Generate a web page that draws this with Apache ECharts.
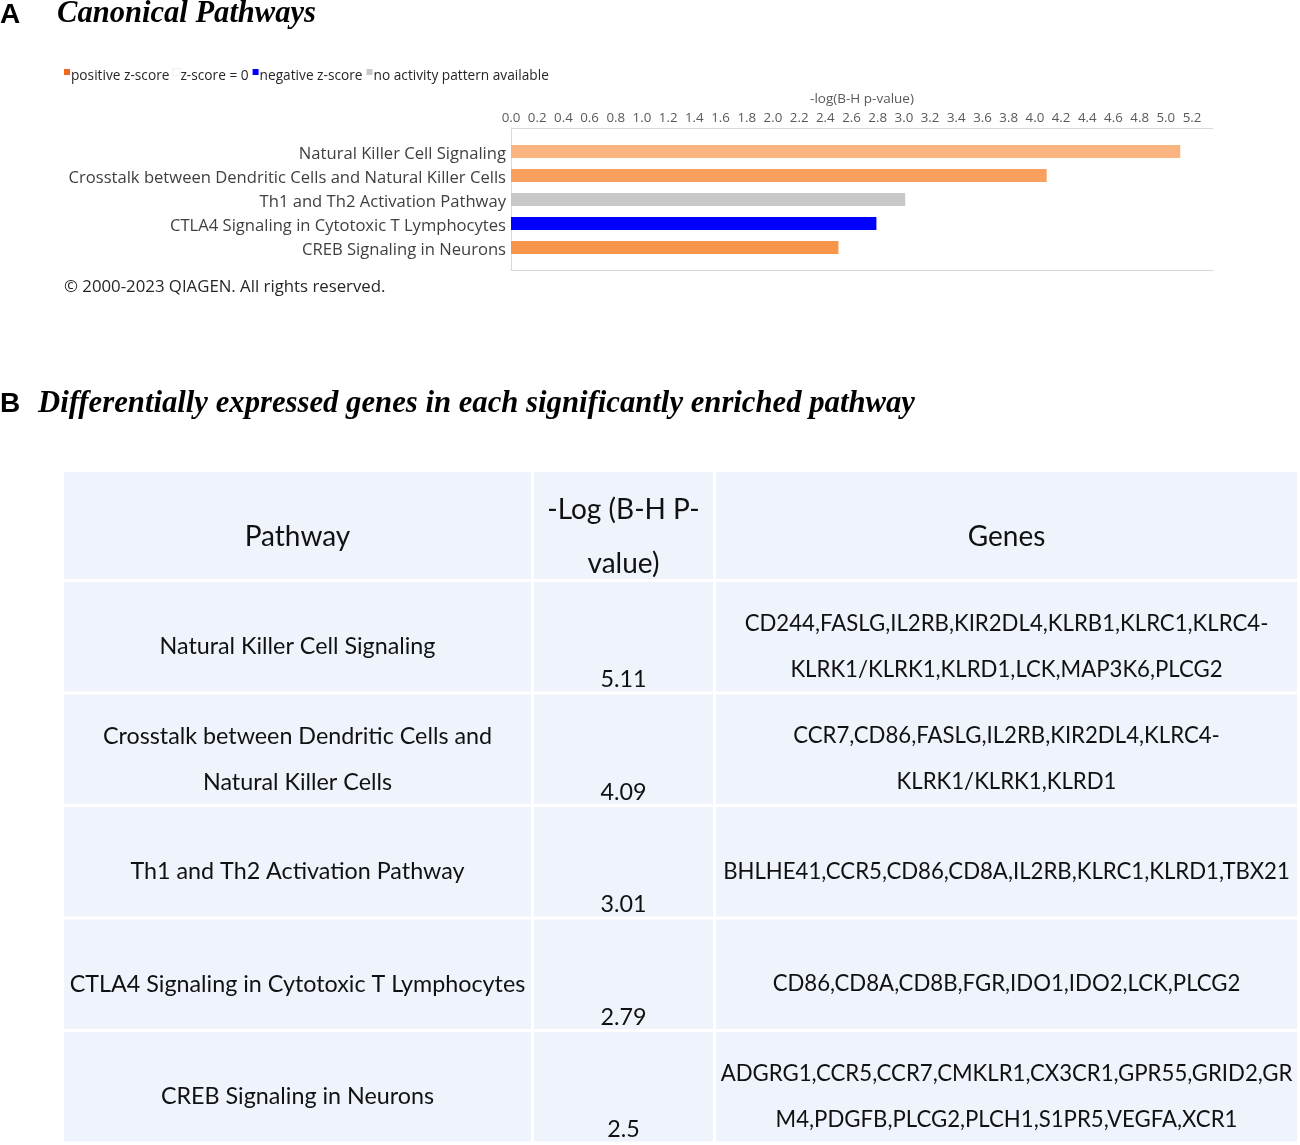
<!DOCTYPE html>
<html><head><meta charset="utf-8">
<script src="https://cdn.jsdelivr.net/npm/echarts@6/dist/echarts.min.js"></script>
<style>html,body{margin:0;padding:0;background:#fff}#c{width:1300px;height:1145px}</style>
</head><body><div id="c"></div>
<script>
// ---------------- data ----------------
const pathways = [
  'Natural Killer Cell Signaling',
  'Crosstalk between Dendritic Cells and Natural Killer Cells',
  'Th1 and Th2 Activation Pathway',
  'CTLA4 Signaling in Cytotoxic T Lymphocytes',
  'CREB Signaling in Neurons'
];
const negLogP = [5.11, 4.09, 3.01, 2.79, 2.5];
const zScoreGroup = ['positive', 'positive', 'none', 'negative', 'positive'];
const axisMin = 0, axisMax = 5.36, axisStep = 0.2;
const axisTitle = '-log(B-H p-value)';
const legendLabels = ['positive z-score', 'z-score = 0', 'negative z-score', 'no activity pattern available'];
const copyright = '\u00A9 2000-2023 QIAGEN. All rights reserved.';

const tableHeader = [['Pathway'], ['-Log (B-H P-', 'value)'], ['Genes']];
const tablePathwayLines = [
  ['Natural Killer Cell Signaling'],
  ['Crosstalk between Dendritic Cells and', 'Natural Killer Cells'],
  ['Th1 and Th2 Activation Pathway'],
  ['CTLA4 Signaling in Cytotoxic T Lymphocytes'],
  ['CREB Signaling in Neurons']
];
const tableValues = ['5.11', '4.09', '3.01', '2.79', '2.5'];
const tableGeneLines = [
  ['CD244,FASLG,IL2RB,KIR2DL4,KLRB1,KLRC1,KLRC4-', 'KLRK1/KLRK1,KLRD1,LCK,MAP3K6,PLCG2'],
  ['CCR7,CD86,FASLG,IL2RB,KIR2DL4,KLRC4-', 'KLRK1/KLRK1,KLRD1'],
  ['BHLHE41,CCR5,CD86,CD8A,IL2RB,KLRC1,KLRD1,TBX21'],
  ['CD86,CD8A,CD8B,FGR,IDO1,IDO2,LCK,PLCG2'],
  ['ADGRG1,CCR5,CCR7,CMKLR1,CX3CR1,GPR55,GRID2,GR', 'M4,PDGFB,PLCG2,PLCH1,S1PR5,VEGFA,XCR1']
];
const titleA = 'Canonical Pathways';
const titleB = 'Differentially expressed genes in each significantly enriched pathway';

// ---------------- styles ----------------
const barShade = ['#FAB47F', '#F9A05F', '#C8C8C8', '#0000FF', '#F7964A'];
const legendColors = ['#F26A1E', '#FFFFFF', '#0000FF', '#C8C8C8'];
const frameColor = '#D9D9D9';
const uiFont = '"Open Sans", "Noto Sans", sans-serif';
const tableFont = 'Lato, "Open Sans", sans-serif';
const cellFill = '#EEF3FC';

// measure condensed title
function textWidth(font, s) {
  const ctx = document.createElement('canvas').getContext('2d');
  ctx.font = font; return ctx.measureText(s).width;
}
const titleFont = 'italic bold 32px "Liberation Serif"';
const bScale = 877 / textWidth(titleFont, titleB);
const aScale = Math.min(1, 259 / textWidth(titleFont, titleA));

const graphics = [];
// panel letters and titles
graphics.push({type:'text', x:0, y:15, style:{text:'A', font:'bold 28px "Liberation Sans"', fill:'#000', verticalAlign:'middle'}});
graphics.push({type:'text', x:57, y:14, scaleX:aScale, style:{text:titleA, font:titleFont, fill:'#000', verticalAlign:'middle'}});
graphics.push({type:'text', x:0, y:404, style:{text:'B', font:'bold 28px "Liberation Sans"', fill:'#000', verticalAlign:'middle'}});
graphics.push({type:'text', x:38, y:404, scaleX:bScale, style:{text:titleB, font:titleFont, fill:'#000', verticalAlign:'middle'}});

// legend (rich text)
const legendRich = {t:{fontSize:13.7, fontFamily:uiFont, fill:'#262626', padding:[0,4,0,1]}};
let legendText = '';
legendLabels.forEach((l, i) => {
  legendRich['s' + i] = {width:6, height:6, backgroundColor:legendColors[i], borderColor: i===1 ? '#F0F0F0' : legendColors[i], borderWidth: i===1 ? 1 : 0, verticalAlign:'top'};
  legendText += '{s' + i + '| }{t|' + l + '}';
});
graphics.push({type:'text', x:64, y:76, style:{text:legendText, rich:legendRich, verticalAlign:'middle'}});

// copyright
graphics.push({type:'text', x:64, y:287, style:{text:copyright, font:'16.8px ' + uiFont, fill:'#262626', verticalAlign:'middle'}});

// table
const colX = [64, 534, 716], colW = [467, 179, 581];
const headTop = 472, headH = 107;
const rowTop0 = 582, rowPitch = 112.5, rowH = 109.5;
function cell(x, w, top, h) {
  graphics.push({type:'rect', shape:{x:x, y:top, width:w, height:h}, style:{fill:cellFill}, z:-1});
}
function cellText(lines, cx, cy, size, lh) {
  graphics.push({type:'text', x:cx, y:cy, style:{text:lines.join('\n'), font:size + 'px ' + tableFont, fill:'#111', align:'center', verticalAlign:'middle', lineHeight:lh}});
}
for (let c = 0; c < 3; c++) {
  cell(colX[c], colW[c], headTop, headH);
  cellText(tableHeader[c], colX[c] + colW[c] / 2, headTop + headH / 2 + 11, 28, 54);
}
for (let r = 0; r < tablePathwayLines.length; r++) {
  const top = rowTop0 + r * rowPitch;
  for (let c = 0; c < 3; c++) cell(colX[c], colW[c], top, rowH);
  cellText(tablePathwayLines[r], colX[0] + colW[0] / 2, top + rowH / 2 + 10, 23.3, 46);
  cellText([tableValues[r]], colX[1] + colW[1] / 2, top + rowH - 12, 23.3, 46);
  cellText(tableGeneLines[r], colX[2] + colW[2] / 2, top + rowH / 2 + 10, 22.2, 46);
}

const chart = echarts.init(document.getElementById('c'), null, {renderer:'canvas'});
const hiddenAxisBits = {axisTick:{show:false}, splitLine:{show:false}};
chart.setOption({
  animation:false,
  backgroundColor:'#fff',
  grid:[
    {left:511, top:128, width:702, height:142},
    {left:511, top:139.5, width:702, height:120}
  ],
  xAxis:[
    Object.assign({gridIndex:0, type:'value', position:'top', min:axisMin, max:axisMax, interval:axisStep,
      axisLine:{show:true, onZero:false, lineStyle:{color:frameColor}},
      axisLabel:{formatter:v => v.toFixed(1), showMaxLabel:false, fontSize:13.3, color:'#595959', margin:3, fontFamily:uiFont},
      name:axisTitle, nameLocation:'middle', nameGap:22, nameTextStyle:{fontSize:13.5, color:'#595959', fontFamily:uiFont}}, hiddenAxisBits),
    Object.assign({gridIndex:0, type:'value', position:'bottom', min:axisMin, max:axisMax,
      axisLine:{show:true, onZero:false, lineStyle:{color:frameColor}}, axisLabel:{show:false}}, hiddenAxisBits),
    {gridIndex:1, type:'value', min:axisMin, max:axisMax, show:false}
  ],
  yAxis:[
    Object.assign({gridIndex:0, type:'value', min:0, max:1,
      axisLine:{show:true, onZero:false, lineStyle:{color:frameColor}}, axisLabel:{show:false}}, hiddenAxisBits),
    {gridIndex:1, type:'category', data:pathways, inverse:true,
      axisLine:{show:false}, axisTick:{show:false}, splitLine:{show:false},
      axisLabel:{margin:5, formatter:v => '{p|' + v + '}',
        rich:{p:{fontSize:16.6, color:'#404040', fontFamily:uiFont, padding:[6,0,0,0]}}}}
  ],
  series:[{
    type:'bar', xAxisIndex:2, yAxisIndex:1, barWidth:13, silent:true,
    data:negLogP.map((v, i) => ({value:v, name:pathways[i], group:zScoreGroup[i], itemStyle:{color:barShade[i]}}))
  }],
  graphic:graphics
});
</script></body></html>
